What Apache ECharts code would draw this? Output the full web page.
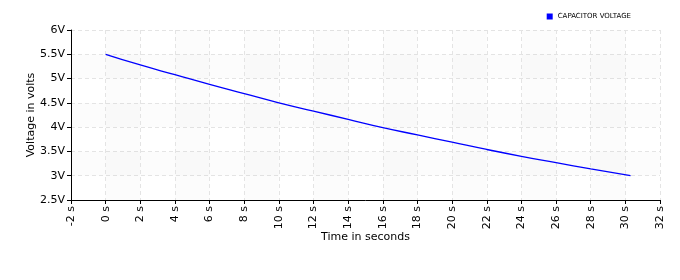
<!DOCTYPE html>
<html><head><meta charset="utf-8">
<script src="https://cdn.jsdelivr.net/npm/echarts@6/dist/echarts.min.js"></script>
<style>html,body{margin:0;padding:0;background:#fff}#c{width:680px;height:280px}</style>
</head><body><div id="c"></div>
<script>
var seriesName = 'CAPACITOR VOLTAGE';
var timeSeconds = [0, 2, 4, 6, 8, 10, 12, 14, 16, 18, 20, 22, 24, 26, 28, 30.3];
var voltage = [5.50, 5.28, 5.08, 4.88, 4.69, 4.50, 4.33, 4.16, 3.99, 3.84, 3.69, 3.54, 3.40, 3.27, 3.14, 3.00];
var xAxisTitle = 'Time in seconds';
var yAxisTitle = 'Voltage in volts';

var pts = timeSeconds.map(function (t, i) { return [t, voltage[i]]; });
var font = 'DejaVu Sans, Verdana, sans-serif';
var chart = echarts.init(document.getElementById('c'), null, {renderer: 'canvas'});
chart.setOption({
  animation: false,
  backgroundColor: '#fff',
  grid: {left: 71, right: 20, top: 30, bottom: 80, containLabel: false},
  legend: {
    top: 8, right: 44, itemWidth: 6, itemHeight: 6, icon: 'rect',
    textStyle: {fontSize: 7, fontFamily: font, color: '#000'},
    itemGap: 4,
    data: [seriesName]
  },
  xAxis: {
    type: 'value', min: -2, max: 32, interval: 2,
    name: xAxisTitle, nameLocation: 'middle', nameGap: 32, nameMoveOverlap: false,
    nameTextStyle: {fontSize: 11, fontFamily: font, color: '#000'},
    axisLine: {show: true, onZero: false, lineStyle: {color: '#000', width: 1}},
    axisTick: {show: true, length: 4, lineStyle: {color: '#000'}},
    axisLabel: {rotate: 90, fontSize: 11, fontFamily: font, color: '#000', margin: 6,
      formatter: function (v) { return v + ' s'; }},
    splitLine: {show: true, lineStyle: {color: '#e4e4e4', type: [4, 3], width: 1}},
    splitArea: {show: true, areaStyle: {color: ['rgba(0,0,0,0)', 'rgba(0,0,0,0.012)']}}
  },
  yAxis: {
    type: 'value', min: 2.5, max: 6, interval: 0.5,
    name: yAxisTitle, nameLocation: 'middle', nameGap: 34, nameMoveOverlap: false,
    nameTextStyle: {fontSize: 11, fontFamily: font, color: '#000'},
    axisLine: {show: true, onZero: false, lineStyle: {color: '#000', width: 1}},
    axisTick: {show: true, length: 4, lineStyle: {color: '#000'}},
    axisLabel: {fontSize: 11, fontFamily: font, color: '#000', margin: 6,
      formatter: function (v) { return v + 'V'; }},
    splitLine: {show: true, lineStyle: {color: '#e4e4e4', type: [4, 3], width: 1}},
    splitArea: {show: true, areaStyle: {color: ['rgba(0,0,0,0)', 'rgba(0,0,0,0.012)']}}
  },
  series: [{
    name: seriesName, type: 'line', data: pts, showSymbol: false, smooth: true,
    lineStyle: {color: '#0000ff', width: 1.3}, itemStyle: {color: '#0000ff'}
  }]
});
</script></body></html>
